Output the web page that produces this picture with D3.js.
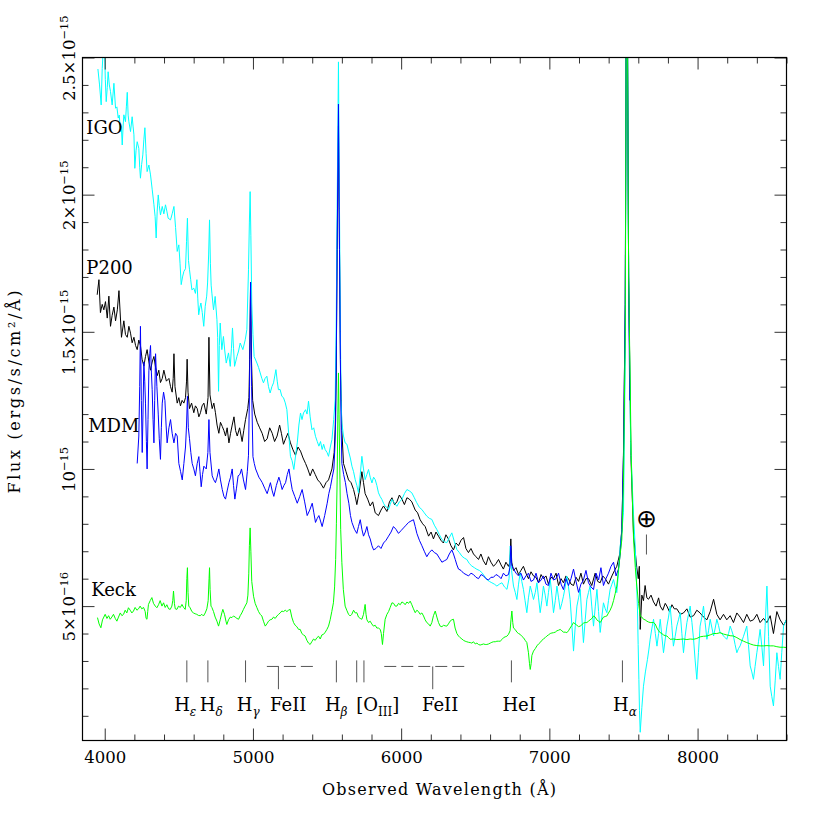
<!DOCTYPE html>
<html>
<head>
<meta charset="utf-8">
<script src="https://cdn.jsdelivr.net/npm/d3@7"></script>
<style>
  body { margin: 0; background: #fff; }
  text { font-family: "DejaVu Serif", serif; fill: #000; }
</style>
</head>
<body>
<svg id="chart" width="830" height="830"></svg>
<script>
// spectra: [observed wavelength (A), flux in units of 1e-16 ergs/s/cm2/A]
const p200 = [[3949,16.35],[3961,16.9],[3971,15.7],[3983,16.0],[3994,15.8],[4005,16.1],[4017,15.5],[4028,16.3],[4039,15.2],[4050,15.6],[4062,15.9],[4073,15.4],[4085,15.8],[4096,16.5],[4113,14.8],[4129,15.4],[4140,14.9],[4152,14.8],[4163,15.2],[4174,14.95],[4185,14.6],[4197,14.8],[4208,14.5],[4219,14.35],[4230,14.7],[4241,14.5],[4252,14.0],[4264,13.75],[4275,14.1],[4286,14.35],[4298,13.9],[4309,13.6],[4320,13.9],[4332,14.1],[4343,13.7],[4354,13.4],[4365,13.6],[4376,13.15],[4388,13.3],[4399,13.6],[4416,13.2],[4433,13.3],[4444,13.0],[4455,12.8],[4462,13.3],[4467,14.2],[4474,13.0],[4489,12.4],[4500,12.6],[4511,12.3],[4522,12.5],[4534,12.4],[4545,12.6],[4552,13.2],[4556,14.0],[4562,12.8],[4572,12.2],[4586,12.4],[4601,12.05],[4612,12.3],[4624,12.2],[4635,11.9],[4646,12.05],[4657,12.3],[4669,12.4],[4685,12.0],[4697,12.6],[4703,14.8],[4710,12.7],[4725,12.2],[4736,12.4],[4747,12.05],[4758,11.6],[4770,11.3],[4781,11.7],[4793,11.55],[4804,11.4],[4815,11.2],[4826,11.5],[4838,10.95],[4849,11.3],[4860,11.6],[4872,11.9],[4883,11.4],[4894,11.2],[4910,11.5],[4927,11.0],[4938,11.4],[4950,11.8],[4965,12.2],[4973,12.6],[4978,14.0],[4984,16.8],[4990,14.0],[4998,12.5],[5012,12.0],[5029,11.7],[5045,11.5],[5062,11.3],[5079,11.0],[5096,11.1],[5113,11.5],[5130,11.3],[5146,11.0],[5163,11.2],[5180,11.6],[5192,11.3],[5206,10.9],[5220,11.1],[5236,11.3],[5253,10.95],[5270,10.7],[5287,10.5],[5304,10.8],[5321,10.65],[5338,10.4],[5355,10.2],[5370,10.0],[5386,9.75],[5403,10.0],[5420,9.8],[5437,9.6],[5454,9.5],[5476,9.3],[5493,9.5],[5510,9.6],[5533,10.0],[5548,10.6],[5555,11.45],[5562,13.5],[5568,18],[5577,22.5],[5584,18],[5591,13.5],[5600,11.4],[5611,10.2],[5628,9.9],[5645,9.6],[5662,9.5],[5679,9.25],[5690,9.0],[5701,8.7],[5718,9.2],[5735,9.9],[5746,9.5],[5757,9.1],[5774,8.9],[5791,8.65],[5808,8.8],[5825,8.4],[5847,8.3],[5864,8.5],[5881,8.65],[5904,8.45],[5921,8.8],[5938,8.95],[5955,8.7],[5971,8.8],[5988,9.05],[6005,8.9],[6022,8.7],[6039,8.95],[6055,8.9],[6072,8.8],[6095,8.5],[6111,8.4],[6128,8.15],[6145,8.0],[6162,7.9],[6185,7.55],[6202,7.7],[6218,7.45],[6235,7.7],[6252,7.55],[6268,7.4],[6285,7.3],[6302,7.6],[6319,7.45],[6336,7.2],[6353,7.05],[6370,7.3],[6387,7.2],[6404,7.4],[6421,7.5],[6437,7.1],[6454,6.95],[6471,7.1],[6488,6.9],[6505,6.8],[6522,6.7],[6538,6.9],[6555,6.65],[6572,6.5],[6589,6.8],[6606,6.6],[6623,6.45],[6640,6.55],[6657,6.7],[6674,6.5],[6690,6.35],[6707,6.6],[6724,6.45],[6734,6.6],[6740,7.45],[6746,6.6],[6758,6.3],[6775,6.4],[6792,6.15],[6808,6.3],[6825,6.45],[6842,6.2],[6859,6.0],[6876,6.25],[6893,6.1],[6910,6.05],[6927,5.85],[6944,6.15],[6960,6.0],[6977,6.1],[6994,5.8],[7011,6.05],[7028,6.0],[7045,6.2],[7062,5.75],[7079,6.0],[7095,5.85],[7112,6.1],[7129,6.0],[7146,5.8],[7163,5.75],[7180,6.05],[7197,5.9],[7213,6.2],[7230,5.8],[7247,6.0],[7264,6.0],[7286,5.75],[7309,6.2],[7326,5.9],[7343,5.85],[7360,6.1],[7377,6.0],[7399,5.8],[7422,6.1],[7440,6.3],[7455,6.45],[7475,6.9],[7489,7.8],[7500,10.5],[7512,16],[7517,24],[7522,70],[7527,26],[7535,17],[7550,10.5],[7568,7.6],[7590,6.4],[7600,6.0],[7607,6.45],[7613,4.15],[7624,5.4],[7635,5.2],[7646,5.75],[7658,5.3],[7669,5.25],[7686,5.4],[7703,5.15],[7720,5.0],[7737,5.3],[7748,5.0],[7765,4.85],[7782,5.1],[7793,5.0],[7810,4.8],[7827,5.05],[7843,4.9],[7860,4.9],[7883,4.7],[7905,4.75],[7928,4.9],[7950,4.6],[7973,4.65],[7995,4.85],[8017,4.75],[8040,4.6],[8063,4.5],[8085,4.8],[8108,5.25],[8130,4.7],[8152,4.5],[8175,4.7],[8197,4.5],[8220,4.65],[8242,4.4],[8265,4.75],[8287,4.6],[8310,4.4],[8332,4.7],[8355,4.45],[8377,4.5],[8400,4.7],[8422,4.4],[8445,4.55],[8468,4.4],[8490,4.65],[8512,4.0],[8535,4.8],[8557,4.5],[8580,4.3],[8600,4.5]];

const igo = [[3954,24.58],[3965,24.0],[3976,23.27],[3983,24.6],[3990,25.3],[3997,25.6],[4004,24.2],[4010,23.39],[4017,23.9],[4023,24.48],[4031,24.0],[4039,23.76],[4050,23.27],[4062,24.06],[4073,23.15],[4082,23.2],[4091,22.79],[4098,22.9],[4106,22.3],[4112,22.5],[4118,21.81],[4124,22.5],[4129,22.91],[4140,22.66],[4146,23.2],[4152,23.73],[4158,22.9],[4163,22.66],[4174,22.3],[4185,22.84],[4191,22.5],[4197,22.18],[4203,20.96],[4211,21.6],[4219,21.93],[4230,21.69],[4236,21.0],[4241,20.6],[4249,21.1],[4257,21.45],[4264,22.0],[4271,22.44],[4279,21.5],[4286,20.84],[4298,21.08],[4309,20.72],[4320,20.2],[4332,19.63],[4340,19.2],[4347,18.42],[4354,19.4],[4361,19.99],[4368,19.6],[4376,19.26],[4388,19.57],[4399,19.3],[4410,19.63],[4419,19.4],[4428,19.14],[4444,19.08],[4455,19.3],[4467,19.57],[4478,18.8],[4489,17.93],[4500,18.17],[4508,17.5],[4516,16.72],[4525,17.0],[4534,17.2],[4545,17.3],[4552,18.3],[4558,19.14],[4565,17.6],[4572,17.26],[4580,16.9],[4588,16.53],[4601,16.59],[4612,16.4],[4622,16.9],[4628,16.2],[4634,15.62],[4642,15.9],[4649,16.05],[4658,15.7],[4668,15.2],[4678,15.93],[4688,16.3],[4694,16.78],[4701,17.8],[4707,19.08],[4713,17.5],[4718,16.7],[4723,16.41],[4734,15.8],[4745,16.29],[4757,15.44],[4762,14.8],[4768,12.83],[4773,14.5],[4779,15.32],[4790,14.35],[4801,14.83],[4810,14.3],[4820,13.86],[4835,14.23],[4847,13.74],[4855,14.4],[4862,15.14],[4869,14.4],[4876,13.74],[4892,14.1],[4903,14.3],[4914,14.59],[4932,14.35],[4948,14.71],[4959,15.08],[4970,17.26],[4976,19.0],[4981,20.11],[4986,18.5],[4992,16.05],[5000,14.9],[5008,14.1],[5027,13.86],[5038,13.7],[5049,13.5],[5060,13.3],[5071,13.14],[5082,13.3],[5094,13.38],[5105,13.0],[5116,12.77],[5128,13.0],[5139,13.14],[5155,13.62],[5164,13.2],[5172,12.89],[5183,12.9],[5195,12.65],[5206,12.6],[5218,12.41],[5229,12.16],[5241,11.3],[5253,10.46],[5264,10.3],[5276,9.98],[5288,10.5],[5299,10.95],[5310,11.6],[5321,12.04],[5331,11.8],[5341,12.04],[5355,12.16],[5365,12.0],[5375,12.47],[5386,11.9],[5398,11.43],[5410,11.5],[5422,11.19],[5434,11.0],[5445,10.83],[5456,11.0],[5467,10.71],[5477,10.9],[5487,10.71],[5500,10.6],[5510,10.46],[5522,10.8],[5533,11.07],[5545,11.8],[5555,12.53],[5562,15.5],[5568,19.5],[5577,24.84],[5584,19.5],[5590,15.0],[5595,12.5],[5600,11.68],[5611,11.2],[5622,10.95],[5634,10.9],[5645,10.65],[5657,10.4],[5668,10.1],[5679,9.9],[5690,9.61],[5701,9.4],[5712,9.13],[5724,9.8],[5735,10.46],[5746,10.0],[5757,9.61],[5769,9.8],[5780,9.98],[5791,9.7],[5803,9.49],[5814,9.7],[5825,9.61],[5836,9.4],[5847,9.13],[5858,9.0],[5870,8.89],[5881,8.75],[5892,8.64],[5904,8.6],[5915,8.52],[5926,8.7],[5938,8.89],[5955,8.75],[5971,8.64],[5988,8.8],[6005,8.89],[6022,9.1],[6039,9.25],[6055,9.2],[6072,9.13],[6089,8.95],[6105,8.77],[6123,8.6],[6140,8.52],[6156,8.4],[6173,8.28],[6190,8.2],[6207,8.16],[6224,7.95],[6241,7.79],[6258,7.6],[6275,7.43],[6291,7.35],[6308,7.31],[6325,7.5],[6342,7.67],[6359,7.35],[6376,7.06],[6393,6.95],[6410,6.82],[6426,6.75],[6443,6.7],[6460,6.55],[6477,6.46],[6494,6.4],[6511,6.34],[6528,6.3],[6545,6.22],[6561,6.1],[6578,5.97],[6595,5.9],[6612,5.85],[6629,5.8],[6646,5.73],[6663,5.8],[6680,5.85],[6697,5.7],[6714,5.61],[6728,6.0],[6736,7.19],[6745,6.3],[6758,5.73],[6770,5.5],[6781,5.24],[6792,5.8],[6803,6.22],[6814,5.9],[6825,5.61],[6836,5.2],[6848,4.76],[6859,5.3],[6871,5.73],[6882,5.5],[6893,5.24],[6905,5.5],[6916,5.85],[6927,5.3],[6938,4.76],[6949,5.2],[6960,5.73],[6972,5.4],[6983,5.0],[6994,5.5],[7006,5.97],[7017,5.4],[7028,4.76],[7040,5.2],[7051,5.73],[7062,5.3],[7073,4.88],[7084,5.1],[7095,5.36],[7107,5.7],[7118,6.09],[7129,5.7],[7140,5.24],[7152,4.3],[7163,3.36],[7175,4.3],[7186,5.0],[7197,5.3],[7208,5.61],[7219,4.6],[7230,3.67],[7242,4.5],[7253,5.24],[7264,5.5],[7275,5.73],[7286,5.0],[7298,4.27],[7310,5.0],[7321,5.61],[7332,4.8],[7343,4.04],[7354,4.6],[7365,5.12],[7377,4.9],[7388,4.76],[7399,5.2],[7410,5.61],[7422,5.8],[7433,5.97],[7444,5.7],[7455,5.49],[7466,6.2],[7478,7.19],[7489,7.7],[7500,8.4],[7512,14],[7517,24],[7522,70],[7527,26],[7535,17],[7548,11],[7558,9.6],[7568,8.3],[7579,7.19],[7587,6.0],[7594,5.0],[7599,3.6],[7604,2.33],[7608,1.2],[7613,0.4],[7624,1.3],[7635,2.08],[7648,2.6],[7662,3.06],[7671,3.4],[7680,3.79],[7692,4.2],[7703,4.52],[7715,4.0],[7726,3.54],[7737,4.0],[7748,4.52],[7759,3.9],[7770,3.3],[7782,3.8],[7793,4.27],[7804,4.6],[7815,5.0],[7826,4.3],[7837,3.54],[7849,3.9],[7860,4.27],[7871,4.5],[7883,4.76],[7894,4.0],[7905,3.3],[7916,3.9],[7928,4.4],[7939,4.7],[7950,5.0],[7962,4.4],[7973,3.79],[7984,3.0],[7995,2.33],[8006,3.3],[8017,4.27],[8029,4.6],[8040,5.0],[8051,4.4],[8063,3.79],[8074,4.1],[8085,4.52],[8097,4.2],[8108,3.91],[8119,4.2],[8130,4.52],[8141,4.3],[8152,4.03],[8164,4.0],[8175,3.91],[8186,3.85],[8197,3.79],[8209,4.0],[8220,4.27],[8231,4.1],[8242,3.91],[8253,3.6],[8265,3.3],[8276,3.45],[8287,3.55],[8310,3.9],[8332,4.27],[8343,3.6],[8355,2.82],[8366,2.6],[8377,2.33],[8388,2.8],[8400,3.3],[8411,3.7],[8422,4.15],[8434,3.5],[8445,2.82],[8456,4.3],[8468,5.73],[8479,3.9],[8490,2.08],[8501,1.7],[8512,1.36],[8524,2.3],[8535,3.3],[8546,2.8],[8557,2.33],[8568,3.3],[8580,4.27],[8600,4.52]];

const mdm = [[4219,10.2],[4230,11.2],[4236,13.0],[4241,15.2],[4247,12.5],[4253,10.6],[4258,12.0],[4264,13.9],[4270,13.2],[4275,12.4],[4281,11.0],[4286,10.0],[4292,11.8],[4298,13.6],[4304,14.2],[4309,14.5],[4315,13.5],[4320,12.9],[4326,11.8],[4332,10.95],[4337,12.5],[4343,14.2],[4352,13.0],[4361,12.0],[4368,11.1],[4376,10.35],[4382,11.5],[4388,12.4],[4397,12.8],[4406,12.5],[4414,11.6],[4421,10.95],[4433,11.5],[4444,11.8],[4455,11.3],[4467,10.95],[4478,11.3],[4489,11.2],[4500,10.2],[4512,9.9],[4523,9.6],[4534,10.2],[4545,10.8],[4552,11.6],[4558,12.65],[4564,11.5],[4572,11.1],[4581,10.6],[4590,10.2],[4601,10.0],[4612,9.75],[4624,10.2],[4635,10.45],[4643,9.9],[4651,9.35],[4660,9.8],[4669,10.1],[4685,10.0],[4696,10.6],[4703,11.8],[4710,10.6],[4725,9.75],[4736,9.6],[4747,9.5],[4758,9.7],[4770,10.0],[4781,9.6],[4793,9.25],[4804,9.0],[4815,8.9],[4826,9.2],[4838,9.5],[4849,9.7],[4860,10.0],[4869,9.4],[4878,8.9],[4889,9.3],[4900,9.75],[4912,9.8],[4923,10.0],[4936,9.6],[4950,9.25],[4962,9.9],[4970,10.5],[4977,13.0],[4984,16.8],[4991,13.0],[5000,10.45],[5009,10.2],[5018,10.0],[5029,9.85],[5040,9.7],[5052,9.6],[5063,9.5],[5079,9.3],[5096,9.1],[5107,9.3],[5118,9.5],[5130,9.2],[5141,9.0],[5158,9.4],[5175,9.7],[5186,9.5],[5197,9.25],[5209,9.4],[5220,9.5],[5232,9.8],[5243,10.0],[5254,9.6],[5265,9.25],[5282,9.0],[5299,8.75],[5316,9.0],[5332,9.25],[5349,8.8],[5366,8.3],[5383,8.5],[5400,8.75],[5411,8.4],[5422,8.05],[5434,8.2],[5445,8.3],[5456,8.1],[5467,7.9],[5484,8.3],[5501,8.75],[5512,9.1],[5523,9.35],[5535,9.7],[5546,10.0],[5553,10.8],[5558,11.8],[5563,14.5],[5568,18.0],[5577,23.3],[5584,18.0],[5590,14.0],[5595,11.5],[5600,10.2],[5612,9.8],[5624,9.5],[5635,9.1],[5647,8.75],[5658,8.3],[5668,8.05],[5685,7.8],[5701,7.65],[5712,7.9],[5724,8.15],[5735,7.8],[5746,7.55],[5758,7.7],[5769,7.9],[5780,7.6],[5791,7.45],[5803,7.2],[5814,7.05],[5830,7.1],[5847,7.2],[5864,7.1],[5881,7.3],[5898,7.4],[5915,7.55],[5932,7.7],[5948,7.9],[5965,7.8],[5982,7.65],[5999,7.75],[6016,7.85],[6033,7.95],[6050,8.05],[6066,8.1],[6083,8.15],[6095,7.9],[6106,7.65],[6123,7.4],[6140,7.2],[6156,7.0],[6173,6.8],[6190,6.95],[6207,7.05],[6224,6.95],[6241,6.9],[6258,6.75],[6275,6.6],[6291,6.65],[6308,6.7],[6325,6.9],[6342,7.05],[6353,6.9],[6365,6.7],[6376,6.5],[6387,6.35],[6404,6.3],[6421,6.2],[6438,6.15],[6455,6.1],[6471,6.2],[6488,6.15],[6505,6.05],[6522,6.0],[6539,6.15],[6556,6.1],[6572,6.0],[6589,5.95],[6606,6.05],[6623,6.05],[6640,6.15],[6657,6.1],[6674,6.0],[6690,6.2],[6707,6.1],[6724,6.15],[6734,6.4],[6740,7.2],[6746,6.5],[6758,6.35],[6775,6.2],[6792,6.1],[6808,6.2],[6825,5.95],[6842,6.1],[6859,6.2],[6876,5.9],[6893,5.95],[6910,6.2],[6927,5.85],[6944,5.95],[6960,6.1],[6977,5.8],[6994,5.75],[7011,6.2],[7028,5.95],[7045,6.0],[7062,6.2],[7079,5.8],[7095,5.6],[7112,6.0],[7129,5.75],[7146,6.0],[7163,6.35],[7180,5.9],[7197,5.5],[7213,5.8],[7230,5.95],[7247,6.3],[7264,5.85],[7281,5.7],[7298,5.6],[7315,6.2],[7332,5.95],[7348,6.4],[7365,5.75],[7382,6.0],[7399,6.2],[7416,6.45],[7433,6.6],[7450,6.1],[7466,6.35],[7478,6.9],[7489,7.8],[7500,10.5],[7512,16],[7517,24],[7522,70],[7527,26],[7535,17],[7542,12.5]];

const keck = [[3951,4.58],[3962,4.35],[3974,4.21],[3985,4.5],[3994,4.6],[4003,4.7],[4015,4.55],[4026,4.65],[4037,4.52],[4048,4.6],[4059,4.7],[4071,4.55],[4082,4.45],[4093,4.6],[4105,4.75],[4116,4.65],[4127,4.7],[4138,4.85],[4149,4.75],[4160,4.94],[4172,4.85],[4183,4.75],[4194,4.82],[4205,4.95],[4217,4.85],[4228,4.9],[4239,5.0],[4250,4.9],[4262,4.95],[4273,4.8],[4279,4.55],[4285,4.52],[4290,4.8],[4295,5.06],[4307,5.2],[4318,5.31],[4329,5.1],[4341,5.0],[4352,4.94],[4363,5.05],[4374,5.2],[4386,5.0],[4397,5.12],[4408,4.95],[4419,5.05],[4431,4.9],[4442,4.88],[4453,5.0],[4459,5.2],[4464,5.55],[4470,5.1],[4476,4.9],[4487,4.88],[4498,5.0],[4510,4.95],[4521,5.06],[4532,4.95],[4543,4.88],[4550,5.2],[4554,6.0],[4558,6.4],[4562,5.5],[4567,5.0],[4576,4.94],[4588,4.8],[4599,4.75],[4610,4.72],[4621,4.7],[4632,4.66],[4644,4.65],[4655,4.7],[4666,4.64],[4678,4.75],[4689,4.9],[4698,5.2],[4704,6.0],[4707,6.4],[4711,5.6],[4717,5.0],[4723,4.95],[4734,4.8],[4745,4.6],[4757,4.45],[4768,4.27],[4779,4.5],[4790,4.75],[4797,4.88],[4808,4.7],[4818,4.45],[4824,4.33],[4835,4.5],[4847,4.6],[4858,4.58],[4869,4.64],[4880,4.6],[4892,4.55],[4903,4.52],[4914,4.65],[4925,4.75],[4936,4.88],[4947,5.0],[4959,5.12],[4966,5.4],[4972,6.2],[4976,7.2],[4981,7.85],[4986,7.0],[4992,5.9],[5004,5.36],[5015,5.1],[5027,4.94],[5038,4.8],[5049,4.7],[5060,4.64],[5071,4.45],[5083,4.27],[5094,4.35],[5105,4.45],[5116,4.5],[5128,4.52],[5139,4.6],[5150,4.55],[5162,4.64],[5173,4.7],[5184,4.75],[5195,4.82],[5206,4.8],[5218,4.85],[5229,4.8],[5240,4.85],[5251,4.88],[5262,4.6],[5274,4.4],[5285,4.3],[5296,4.25],[5308,4.15],[5319,4.15],[5330,4.0],[5341,3.95],[5352,3.91],[5364,3.75],[5375,3.65],[5386,3.6],[5397,3.7],[5409,3.8],[5420,3.75],[5432,3.85],[5443,3.9],[5454,3.8],[5465,3.95],[5476,3.97],[5488,4.05],[5499,4.15],[5510,4.27],[5521,4.5],[5532,4.8],[5543,5.12],[5551,5.7],[5558,6.7],[5563,8.0],[5568,9.6],[5573,12.0],[5577,13.5],[5581,12.0],[5587,9.6],[5592,7.8],[5600,6.58],[5610,5.6],[5622,5.0],[5633,4.85],[5645,4.7],[5656,4.64],[5667,4.7],[5679,4.85],[5690,4.75],[5701,4.76],[5712,4.6],[5724,4.55],[5735,4.52],[5746,4.7],[5752,4.9],[5757,5.06],[5763,4.7],[5769,4.5],[5780,4.4],[5791,4.45],[5802,4.35],[5813,4.27],[5825,4.3],[5836,4.2],[5847,4.2],[5859,4.15],[5866,4.0],[5874,3.6],[5881,4.0],[5892,4.52],[5904,4.7],[5915,4.8],[5926,4.95],[5938,5.12],[5949,5.1],[5960,5.0],[5971,5.0],[5982,5.1],[5994,5.05],[6005,5.15],[6016,5.12],[6027,5.05],[6039,5.15],[6050,5.1],[6061,5.18],[6072,5.05],[6083,4.9],[6095,4.76],[6106,4.85],[6117,4.8],[6128,4.7],[6140,4.75],[6151,4.64],[6162,4.5],[6173,4.4],[6185,4.35],[6196,4.27],[6207,4.4],[6218,4.65],[6230,4.82],[6241,4.6],[6252,4.4],[6263,4.27],[6275,4.25],[6286,4.3],[6297,4.28],[6308,4.27],[6319,4.35],[6330,4.45],[6342,4.5],[6353,4.52],[6364,4.2],[6376,4.0],[6387,3.91],[6398,3.85],[6410,3.8],[6421,3.75],[6432,3.72],[6443,3.7],[6455,3.68],[6466,3.67],[6477,3.65],[6488,3.7],[6500,3.62],[6511,3.65],[6522,3.6],[6533,3.58],[6545,3.6],[6556,3.62],[6567,3.6],[6578,3.6],[6590,3.62],[6601,3.65],[6612,3.68],[6623,3.7],[6635,3.7],[6646,3.72],[6657,3.72],[6668,3.72],[6680,3.78],[6691,3.85],[6702,3.88],[6713,3.9],[6724,3.97],[6735,4.1],[6741,4.5],[6747,4.82],[6753,4.4],[6758,4.2],[6769,4.15],[6781,4.05],[6792,4.0],[6803,3.97],[6814,3.9],[6825,3.85],[6837,3.75],[6848,3.67],[6859,3.3],[6866,2.9],[6871,2.69],[6877,2.9],[6882,3.2],[6893,3.36],[6905,3.45],[6916,3.55],[6927,3.62],[6938,3.67],[6949,3.75],[6960,3.8],[6972,3.85],[6983,3.91],[6994,3.95],[7006,4.0],[7017,4.02],[7028,4.03],[7040,4.05],[7051,4.1],[7062,4.12],[7073,4.15],[7084,4.1],[7095,4.05],[7107,4.05],[7118,4.03],[7129,4.1],[7140,4.2],[7152,4.3],[7163,4.4],[7174,4.35],[7186,4.3],[7197,4.25],[7208,4.27],[7219,4.32],[7231,4.38],[7242,4.4],[7253,4.4],[7264,4.45],[7275,4.5],[7287,4.55],[7298,4.64],[7309,4.6],[7320,4.5],[7332,4.45],[7343,4.4],[7354,4.5],[7365,4.6],[7377,4.62],[7388,4.64],[7399,4.75],[7410,4.85],[7422,5.0],[7433,5.2],[7444,5.45],[7455,5.73],[7466,6.3],[7478,6.9],[7489,7.43],[7500,9.5],[7512,15],[7517,24],[7522,70],[7527,26],[7535,17],[7552,10.5],[7568,7.43],[7580,6.4],[7590,5.73],[7602,5.1],[7613,4.64],[7624,4.6],[7635,4.52],[7646,4.5],[7658,4.45],[7669,4.42],[7680,4.4],[7692,4.4],[7703,4.4],[7714,4.35],[7726,4.2],[7737,4.1],[7748,4.03],[7759,4.0],[7770,3.95],[7782,3.92],[7793,3.91],[7804,3.85],[7815,3.79],[7838,3.8],[7860,3.78],[7883,3.79],[7905,3.8],[7928,3.78],[7950,3.8],[7973,3.79],[7995,3.82],[8017,3.88],[8040,3.9],[8063,3.91],[8085,3.95],[8108,4.0],[8130,4.0],[8152,4.03],[8175,3.98],[8197,3.95],[8220,3.92],[8242,3.91],[8265,3.85],[8287,3.78],[8310,3.72],[8332,3.67],[8355,3.62],[8377,3.58],[8400,3.56],[8422,3.55],[8445,3.55],[8468,3.56],[8490,3.55],[8512,3.55],[8535,3.52],[8557,3.5],[8580,3.5],[8600,3.49]];

const xMajorTicks = [4000, 5000, 6000, 7000, 8000];
const yMajorTicks = [5, 10, 15, 20, 25];
const yTickLabels = [["5×10", "−16"], ["10", "−15"], ["1.5×10", "−15"], ["2×10", "−15"], ["2.5×10", "−15"]];

// line identifications (wavelength of the marker, label centre)
const lineMarks = [4554, 4696, 4950, 5563, 5700, 5749, 6744, 7493];
const feBands = [[5094, 5409, 5172], [5886, 6432, 6213]];
const lineLabels = [
    { main: "H", sub: "ε", lam: 4543 },
    { main: "H", sub: "δ", lam: 4718 },
    { main: "H", sub: "γ", lam: 4968 },
    { main: "FeII", lam: 5238 },
    { main: "H", sub: "β", lam: 5562 },
    { main: "[O", sub: "III", tail: "]", lam: 5842 },
    { main: "FeII", lam: 6263 },
    { main: "HeI", lam: 6796 },
    { main: "H", sub: "α", lam: 7510 }
];

const series = [
    { name: "P200", data: p200, color: "#000000", lab: [3876, 17.1] },
    { name: "IGO", data: igo, color: "#00ffff", lab: [3876, 22.2] },
    { name: "MDM", data: mdm, color: "#0000ff", lab: [3888, 11.35] },
    { name: "Keck", data: keck, color: "#00ff00", lab: [3909, 5.35] }
];

const svg = d3.select("#chart");
const plotLeft = 82.5, plotRight = 786.5, plotTop = 57.5, plotBottom = 740.5;

const x = d3.scaleLinear().domain([3850, 8600]).range([plotLeft, plotRight]);
const y = d3.scaleLinear().domain([0.1, 25]).range([plotBottom, plotTop]);

svg.append("defs").append("clipPath").attr("id", "plot")
    .append("rect")
    .attr("x", plotLeft).attr("y", plotTop)
    .attr("width", plotRight - plotLeft).attr("height", plotBottom - plotTop);

// spectra
const line = d3.line().x(d => x(d[0])).y(d => y(d[1]));
svg.append("g").attr("clip-path", "url(#plot)")
    .selectAll("path")
    .data(series)
    .enter()
    .append("path")
    .attr("d", d => line(d.data))
    .attr("fill", "none")
    .attr("stroke", d => d.color)
    .attr("stroke-width", 1)
    .attr("stroke-linejoin", "round");

// axes, ticks pointing inward on all four sides
const xMinor = d3.range(4000, 8601, 200).filter(v => v % 1000 !== 0);
const yMinor = d3.range(1, 26).filter(v => v % 5 !== 0);

const addAxis = (axis, tx, ty) => {
    const g = svg.append("g").attr("transform", `translate(${tx},${ty})`).call(axis);
    g.select(".domain").remove();
    g.selectAll("line").attr("stroke", "#333");
    return g;
};

const xAxis = addAxis(d3.axisBottom(x).tickValues(xMajorTicks).tickSize(-12).tickPadding(11).tickFormat(d3.format("d")), 0, plotBottom);
xAxis.selectAll("text").attr("font-family", "DejaVu Serif").attr("font-size", 16.5).attr("fill", "#000");
addAxis(d3.axisBottom(x).tickValues(xMinor).tickSize(-6).tickFormat(""), 0, plotBottom);
addAxis(d3.axisTop(x).tickValues(xMajorTicks).tickSize(-12).tickFormat(""), 0, plotTop);
addAxis(d3.axisTop(x).tickValues(xMinor).tickSize(-6).tickFormat(""), 0, plotTop);

const yAxis = addAxis(d3.axisLeft(y).tickValues(yMajorTicks).tickSize(-12).tickFormat(""), plotLeft, 0);
addAxis(d3.axisLeft(y).tickValues(yMinor).tickSize(-6).tickFormat(""), plotLeft, 0);
addAxis(d3.axisRight(y).tickValues(yMajorTicks).tickSize(-12).tickFormat(""), plotRight, 0);
addAxis(d3.axisRight(y).tickValues(yMinor).tickSize(-6).tickFormat(""), plotRight, 0);

yAxis.selectAll(".tick").each(function (d, i) {
    const t = d3.select(this).append("text")
        .attr("transform", "translate(-7.5,0) rotate(-90)")
        .attr("text-anchor", "middle")
        .attr("font-family", "DejaVu Serif")
        .attr("font-size", 16.5)
        .attr("fill", "#000");
    t.append("tspan").text(yTickLabels[i][0]);
    t.append("tspan").attr("dy", -7.5).attr("font-size", 11.5).text(yTickLabels[i][1]);
});

svg.append("rect")
    .attr("x", plotLeft).attr("y", plotTop)
    .attr("width", plotRight - plotLeft).attr("height", plotBottom - plotTop)
    .attr("fill", "none").attr("stroke", "#000").attr("stroke-width", 1.2);

// axis titles
svg.append("text")
    .attr("x", 439).attr("y", 795)
    .attr("text-anchor", "middle")
    .attr("font-size", 16)
    .attr("textLength", 234)
    .attr("lengthAdjust", "spacing")
    .text("Observed Wavelength (Å)");

svg.append("text")
    .attr("transform", "translate(20,392) rotate(-90)")
    .attr("text-anchor", "middle")
    .attr("font-size", 16)
    .attr("textLength", 203)
    .attr("lengthAdjust", "spacing")
    .text("Flux (ergs/s/cm²/Å)");

// series names
svg.append("g").selectAll("text")
    .data(series)
    .enter()
    .append("text")
    .attr("x", d => x(d.lab[0]))
    .attr("y", d => y(d.lab[1]))
    .attr("font-size", 18)
    .text(d => d.name);

// line identifications
const ann = svg.append("g").attr("stroke", "#555").attr("stroke-width", 1);
const markTop = y(3.02), markBottom = y(2.22), bandY = y(2.8), stemBottom = y(1.97), labelY = y(1.17);

ann.selectAll(".mark")
    .data(lineMarks)
    .enter()
    .append("line")
    .attr("x1", d => x(d)).attr("x2", d => x(d))
    .attr("y1", markTop).attr("y2", markBottom);

feBands.forEach(b => {
    ann.append("line")
        .attr("x1", x(b[0])).attr("x2", x(b[1]))
        .attr("y1", bandY).attr("y2", bandY)
        .attr("stroke-dasharray", "12,5");
    ann.append("line")
        .attr("x1", x(b[2])).attr("x2", x(b[2]))
        .attr("y1", bandY).attr("y2", stemBottom);
});

lineLabels.forEach(d => {
    const t = svg.append("text")
        .attr("x", x(d.lam)).attr("y", labelY)
        .attr("text-anchor", "middle")
        .attr("font-size", 18);
    t.append("tspan").text(d.main);
    if (d.sub) {
        t.append("tspan").attr("dy", 5).attr("font-size", 12)
            .attr("font-style", d.sub === "III" ? "normal" : "italic")
            .text(d.sub);
    }
    if (d.tail) t.append("tspan").attr("dy", -5).text(d.tail);
});

// telluric marker
svg.append("text")
    .attr("x", x(7655)).attr("y", y(8.19) + 8.5)
    .attr("text-anchor", "middle")
    .attr("font-size", 25)
    .attr("font-weight", 200)
    .style("font-family", "'DejaVu Sans ExtraLight', 'DejaVu Sans'")
    .text("⊕");
ann.append("line")
    .attr("x1", x(7655)).attr("x2", x(7655))
    .attr("y1", y(7.61)).attr("y2", y(6.88));
</script>
</body>
</html>
